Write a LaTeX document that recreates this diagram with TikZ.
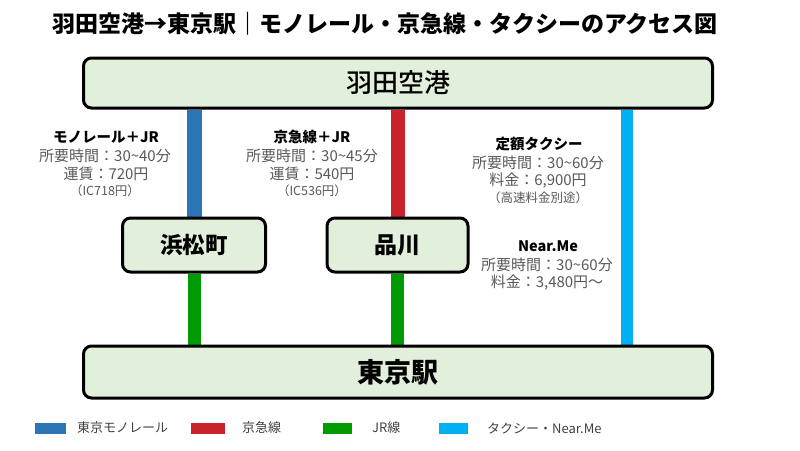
\documentclass[tikz,border=0pt]{standalone}
\usepackage{fontspec}
\setmainfont{Noto Sans CJK JP}
\newfontfamily\jpmed{Noto Sans CJK JP Medium}
\definecolor{boxfill}{HTML}{E2EFDA}
\definecolor{mono}{HTML}{2E75B6}
\definecolor{keikyu}{HTML}{CB232B}
\definecolor{jr}{HTML}{009B00}
\definecolor{taxi}{HTML}{00B0F0}
\definecolor{bodygray}{HTML}{595959}
\definecolor{leggray}{HTML}{404040}
\pgfdeclarelayer{bg}
\pgfsetlayers{bg,main}
\tikzset{
  station/.style={draw=black, line width=3pt, fill=boxfill, rounded corners=8pt, inner sep=0pt},
  route/.style={line width=#1},
  lbl/.style={font=\fontsize{14.5}{16}\selectfont\bfseries, text=black, inner sep=0pt},
  info/.style={font=\fontsize{15}{16}\selectfont, text=bodygray, inner sep=0pt},
  small/.style={font=\fontsize{12.5}{14}\selectfont, text=bodygray, inner sep=0pt},
  legtext/.style={font=\fontsize{13}{15}\selectfont, text=leggray, inner sep=0pt, anchor=west},
}
\begin{document}
\begin{tikzpicture}[x=1pt,y=-1pt]
\useasboundingbox (0,0) rectangle (800,450);
% title
\node[font=\fontsize{23}{26}\selectfont\bfseries, inner sep=0pt] (title) at (385,24) {羽田空港→東京駅｜モノレール・京急線・タクシーのアクセス図};
% stations
\node[station, minimum width=629pt, minimum height=50pt, font=\fontsize{26}{30}\selectfont\jpmed] (haneda) at (398,83) {羽田空港};
\node[station, minimum width=629pt, minimum height=52pt, font=\fontsize{27}{30}\selectfont\bfseries] (tokyo) at (398,372) {東京駅};
\node[station, minimum width=143pt, minimum height=54pt, font=\fontsize{22.5}{26}\selectfont\bfseries] (hama) at (194,245) {浜松町};
\node[station, minimum width=141pt, minimum height=54pt, font=\fontsize{23}{26}\selectfont\bfseries] (shina) at (397.5,245) {品川};
\coordinate (cx) at (627,0);
% routes
\begin{pgfonlayer}{bg}
\draw[route=15pt, mono] (hama.north |- haneda.south) -- (hama.north);
\draw[route=13pt, jr] (hama.south) -- (hama.south |- tokyo.north);
\draw[route=14pt, keikyu] (shina.north |- haneda.south) -- (shina.north);
\draw[route=13pt, jr] (shina.south) -- (shina.south |- tokyo.north);
\draw[route=12pt, taxi] (cx |- haneda.south) -- (cx |- tokyo.north);
\end{pgfonlayer}
% info texts: monorail
\node[lbl] (m1) at (106,137) {モノレール＋JR};
\node[info] (m2) at (105,155.5) {所要時間：30\textasciitilde40分};
\node[info] (m3) at (106,173.5) {運賃：720円};
\node[small] (m4) at (105,190.5) {（IC718円）};
% keikyu
\node[lbl] (k1) at (312,137) {京急線＋JR};
\node[info] (k2) at (312,155.5) {所要時間：30\textasciitilde45分};
\node[info] (k3) at (312,173.5) {運賃：540円};
\node[small] (k4) at (312,190.5) {（IC536円）};
% taxi
\node[lbl] (t1) at (539,144) {定額タクシー};
\node[info] (t2) at (538,162.5) {所要時間：30\textasciitilde60分};
\node[info] (t3) at (538,180.5) {料金：6,900円};
\node[small] (t4) at (538,198) {（高速料金別途）};
% near.me
\node[lbl] (n1) at (548,246) {Near.Me};
\node[info] (n2) at (547,264.5) {所要時間：30\textasciitilde60分};
\node[info] (n3) at (547,283) {料金：3,480円〜};
% legend
\fill[mono] (35,422.5) rectangle (66,434);
\node[legtext] (lt1) at (77,428) {東京モノレール};
\fill[keikyu] (191,422.5) rectangle (225,434);
\node[legtext] (lt2) at (242,428) {京急線};
\fill[jr] (323,422.5) rectangle (352,434);
\node[legtext] (lt3) at (372,428) {JR線};
\fill[taxi] (439,422.5) rectangle (468,434);
\node[legtext] (lt4) at (487,428) {タクシー・Near.Me};
\end{tikzpicture}
\end{document}
